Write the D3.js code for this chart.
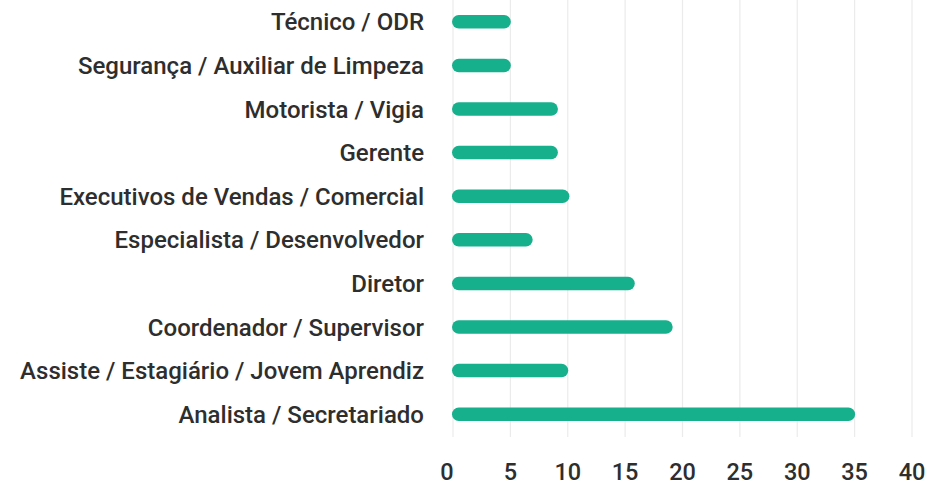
<!DOCTYPE html>
<html>
<head>
<meta charset="utf-8">
<script src="https://cdn.jsdelivr.net/npm/d3@7"></script>
<style>
  html, body { margin: 0; padding: 0; background: #ffffff; }
  svg { display: block; font-family: Roboto, "Noto Sans", sans-serif; }
</style>
</head>
<body>
<svg id="chart" width="932" height="486"></svg>
<script>
const categories = [
  "Técnico / ODR",
  "Segurança / Auxiliar de Limpeza",
  "Motorista / Vigia",
  "Gerente",
  "Executivos de Vendas / Comercial",
  "Especialista / Desenvolvedor",
  "Diretor",
  "Coordenador / Supervisor",
  "Assiste / Estagiário / Jovem Aprendiz",
  "Analista / Secretariado"
];
const values = [5, 5, 9.1, 9.1, 10.1, 6.9, 15.8, 19.1, 10, 35];
const xTicks = [0, 5, 10, 15, 20, 25, 30, 35, 40];

const svg = d3.select("#chart");
const x = d3.scaleLinear().domain([0, 40]).range([453, 912]);
const y = d3.scaleBand().domain(categories).range([0, 436]);
const barH = 13.5;
const barColor = "#17b08c";
const textColor = "#2e2e2e";

// gridlines
svg.append("g").selectAll("line").data(xTicks).join("line")
  .attr("x1", d => x(d)).attr("x2", d => x(d))
  .attr("y1", 0).attr("y2", 437)
  .attr("stroke", "#ebebeb").attr("stroke-width", 1.2);

// bars
svg.append("g").selectAll("rect").data(values).join("rect")
  .attr("x", x(0) - 1)
  .attr("y", (d, i) => y(categories[i]) + y.bandwidth() / 2 - barH / 2)
  .attr("width", d => x(d) - x(0) + 1.5)
  .attr("height", barH)
  .attr("rx", barH / 2).attr("ry", barH / 2)
  .attr("fill", barColor);

// category labels
svg.append("g").selectAll("text").data(categories).join("text")
  .attr("x", 424)
  .attr("y", d => y(d) + y.bandwidth() / 2)
  .attr("dy", "0.36em")
  .attr("text-anchor", "end")
  .attr("font-size", 24)
  .attr("font-weight", 500)
  .attr("fill", textColor)
  .text(d => d);

// x tick labels
svg.append("g").selectAll("text").data(xTicks).join("text")
  .attr("x", (d, i) => x(d) - (i === 0 ? 6 : 0))
  .attr("y", 480)
  .attr("text-anchor", "middle")
  .attr("font-size", 23.5)
  .attr("font-weight", 500)
  .attr("fill", textColor)
  .text(d => d);
</script>
</body>
</html>
